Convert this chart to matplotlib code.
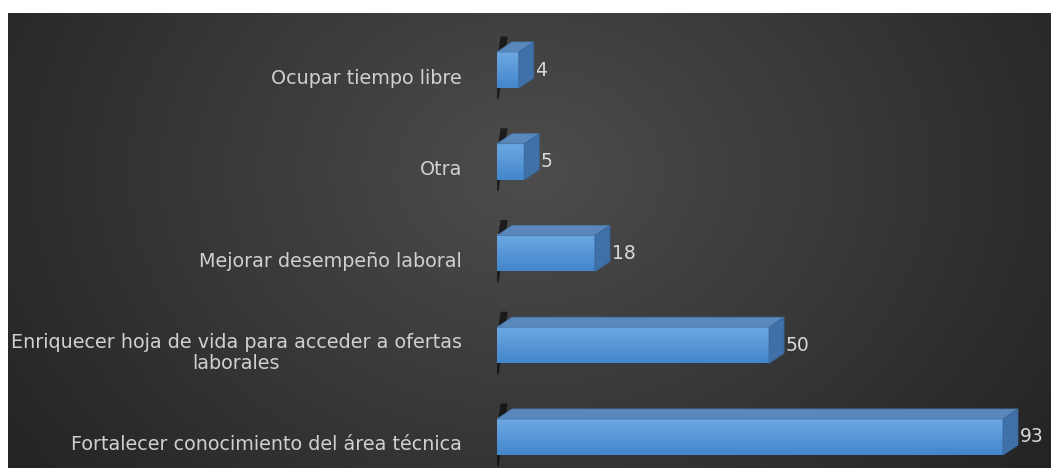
import numpy as np
import matplotlib.pyplot as plt
from matplotlib.patches import Polygon

# data, bottom to top as drawn
categories = ['Fortalecer conocimiento del área técnica',
              'Enriquecer hoja de vida para acceder a ofertas\nlaborales',
              'Mejorar desempeño laboral',
              'Otra',
              'Ocupar tiempo libre']
values = [93, 50, 18, 5, 4]

W, H = 1051, 468
fig = plt.figure(figsize=(W / 100, H / 100), dpi=100)
fig.patch.set_facecolor('white')

# dark panel with radial gradient
bg = fig.add_axes([8 / W, 0, 1 - 8 / W, (H - 13) / H])
yy, xx = np.mgrid[-1:1:200j, -1:1:400j]
r = np.sqrt((xx / 1.0) ** 2 + ((yy + 0.3) / 1.8) ** 2)
shade = 0.30 - 0.13 * np.clip(r, 0, 1.2)
bg.imshow(np.dstack([shade] * 3), aspect='auto', extent=[0, 1, 0, 1], interpolation='bilinear')
bg.set_axis_off()

# bar axes: left edge at bar start
x0_px, x1_px = 497, 1045
px_per_unit = (1003 - 497) / 93
ax = fig.add_axes([x0_px / W, 0, (x1_px - x0_px) / W, (H - 13) / H])
ax.set_xlim(0, (x1_px - x0_px) / px_per_unit)
step_px = (437 - 70) / 4
ax.set_ylim(-(H - 437) / step_px, 4 + (70 - 13) / step_px)
ax.set_axis_off()
ax.patch.set_alpha(0)

bar_h = 36 / step_px
dx = 15 / px_per_unit
dy = 10 / step_px

font = 'DejaVu Sans'
ypos = np.arange(len(values))
for y, v, lab in zip(ypos, values, categories):
    bot, top = y - bar_h / 2, y + bar_h / 2
    # dark wall shadow at left
    ax.add_patch(Polygon([(-1.0, bot - 0.12), (0.3, bot - 0.12), (0.3 + dx * 0.6, top + dy + 0.06),
                          (-1.0 + dx * 0.6, top + dy + 0.06)], closed=True, color='#0a0a0a', alpha=0.7, lw=0, zorder=1))
    # front face gradient
    grad = np.linspace(0, 1, 50).reshape(-1, 1)
    cols = np.array([0x6c, 0xa8, 0xe2]) / 255 * (1 - grad[..., None]) + np.array([0x44, 0x86, 0xcc]) / 255 * grad[..., None]
    ax.imshow(cols, extent=[0, v, bot, top], aspect='auto', zorder=3, interpolation='bilinear')
    ax.add_patch(Polygon([(0, top), (v, top), (v + dx, top + dy), (dx, top + dy)],
                         closed=True, fc='#5b88bb', ec='#4a78ad', lw=0.6, zorder=3))
    ax.add_patch(Polygon([(v, bot), (v + dx, bot + dy), (v + dx, top + dy), (v, top)],
                         closed=True, fc='#3f70a8', ec='#3a679c', lw=0.6, zorder=3))
    ax.text(v + dx + 0.3, y, str(v), color='#d9d9d9', fontsize=13.5, family=font,
            va='center', ha='left', zorder=4)
    # category label
    fig.text(462 / W, (ax.transData.transform((0, y))[1] - 8) / H, lab, color='#d0d0d0',
             fontsize=13.8, family=font, ha='right', va='center', multialignment='center',
             linespacing=1.15)

fig.savefig('out.png', dpi=100, facecolor='white')
